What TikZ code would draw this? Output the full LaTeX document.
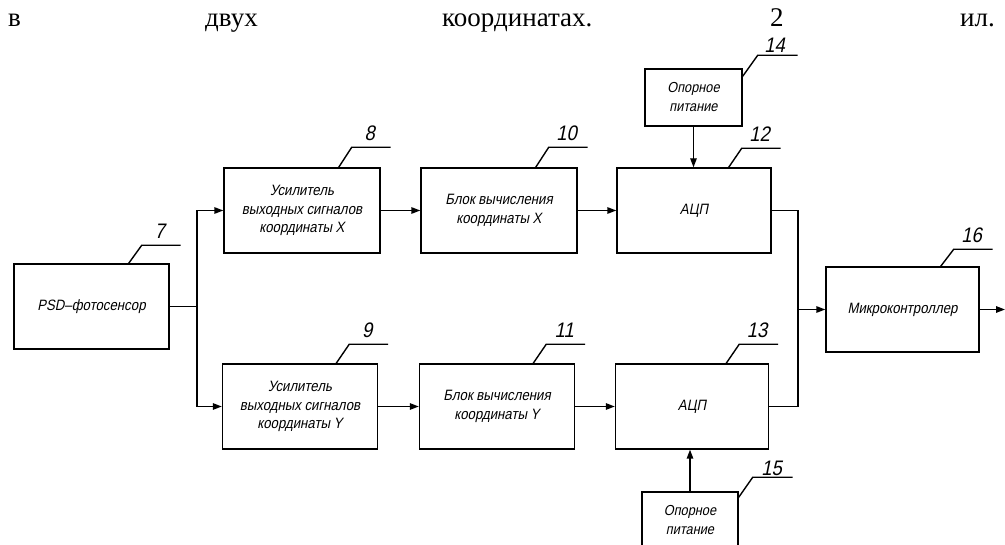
\documentclass[tikz,border=0pt]{standalone}
\usepackage{fontspec}
\setmainfont{Liberation Serif}
\newfontfamily\gost{Liberation Sans}[FakeSlant=0.2, FakeStretch=0.88]
\usetikzlibrary{arrows.meta}
\tikzset{
  line/.style={line width=1.4pt, black},
  arr/.style={line, -{Triangle[length=9pt,width=6.5pt]}},
  blk/.style={draw, line width=1.4pt, rectangle, inner sep=0pt, align=center,
    font=\gost\fontsize{15}{18.5}\selectfont},
  num/.style={inner sep=0pt, font=\gost\fontsize{21}{21}\selectfont},
  hdr/.style={inner sep=0pt, font=\fontsize{27}{27}\selectfont},
}
\newcommand\ldr[4]{% node, label, xshift from right, rise
  \draw[line] ([xshift=-#3pt]#1.north east) -- ++(13,-#4) coordinate (#1k) -- ++(39,0);
  \node[num, anchor=base] (#1n) at ([shift={(18,-7)}]#1k) {#2};
}
\begin{document}
\begin{tikzpicture}[x=1pt,y=-1pt]
\clip (0,0) rectangle (1005,545);
\fill[white] (0,0) rectangle (1005,545);
% header line
\node[hdr, anchor=base west] (h1) at (8,27) {в};
\node[hdr, anchor=base west] (h2) at (205,27) {двух};
\node[hdr, anchor=base west] (h3) at (442,27) {координатах.};
\node[hdr, anchor=base west] (h4) at (770,27) {2};
\node[hdr, anchor=base west] (h5) at (960,27) {ил.};
% blocks
\node[blk, minimum width=155pt, minimum height=85pt] (b7) at (91.5,306.5) {PSD–фотосенсор};
\node[blk, minimum width=156pt, minimum height=85pt] (b8) at (302,210.5) {Усилитель\\выходных сигналов\\координаты X};
\node[blk, minimum width=156pt, minimum height=85pt] (b10) at (499,210.5) {Блок вычисления\\координаты X};
\node[blk, minimum width=154pt, minimum height=85pt] (b12) at (694,210.5) {АЦП};
\node[blk, minimum width=97pt, minimum height=57pt, font=\gost\fontsize{14.5}{19}\selectfont] (b14) at (693.5,97.5) {Опорное\\питание};
\node[blk, minimum width=155pt, minimum height=85pt] (b9) at (300,406.5) {Усилитель\\выходных сигналов\\координаты Y};
\node[blk, minimum width=155pt, minimum height=85pt] (b11) at (497,406.5) {Блок вычисления\\координаты Y};
\node[blk, minimum width=153pt, minimum height=85pt] (b13) at (692,406.5) {АЦП};
\node[blk, minimum width=96pt, minimum height=57pt, font=\gost\fontsize{14.5}{19}\selectfont] (b15) at (690,520.5) {Опорное\\питание};
\node[blk, minimum width=153pt, minimum height=85pt] (b16) at (902.5,309.5) {Микроконтроллер};
% connectors
\coordinate (bx) at (197,306.5);
\draw[line] (b7.east) -- (bx);
\draw[arr] (bx) |- (b8.west);
\draw[arr] (bx) |- (b9.west);
\draw[arr] (b8) -- (b10);
\draw[arr] (b10) -- (b12);
\draw[arr] (b9) -- (b11);
\draw[arr] (b11) -- (b13);
\draw[arr] (b14.south) -- (b14.south |- b12.north);
\draw[arr] (b15.north) -- (b15.north |- b13.south);
\coordinate (by) at (798,309.5);
\draw[line] (b12.east) -| (by);
\draw[line] (b13.east) -| (by);
\draw[arr] (by) -- (b16.west);
\coordinate (out) at (1005,309.5);
\draw[arr] (b16.east) -- (out);
% leaders
\ldr{b7}{7}{41}{18}
\ldr{b8}{8}{42}{20}
\ldr{b10}{10}{42}{20}
\ldr{b12}{12}{43}{19}
\ldr{b9}{9}{42}{19}
\ldr{b11}{11}{42}{19}
\ldr{b13}{13}{43}{19}
\ldr{b16}{16}{39}{17}
\draw[line] ([yshift=-8pt]b14.north east) -- ++(15,-21) coordinate (b14k) -- ++(40,0);
\node[num, anchor=base] (b14n) at ([shift={(17,-3)}]b14k) {14};
\draw[line] ([yshift=-6pt]b15.north east) -- ++(14,-20) coordinate (b15k) -- ++(40,0);
\node[num, anchor=base] (b15n) at ([shift={(19,-2)}]b15k) {15};
\end{tikzpicture}
\end{document}
